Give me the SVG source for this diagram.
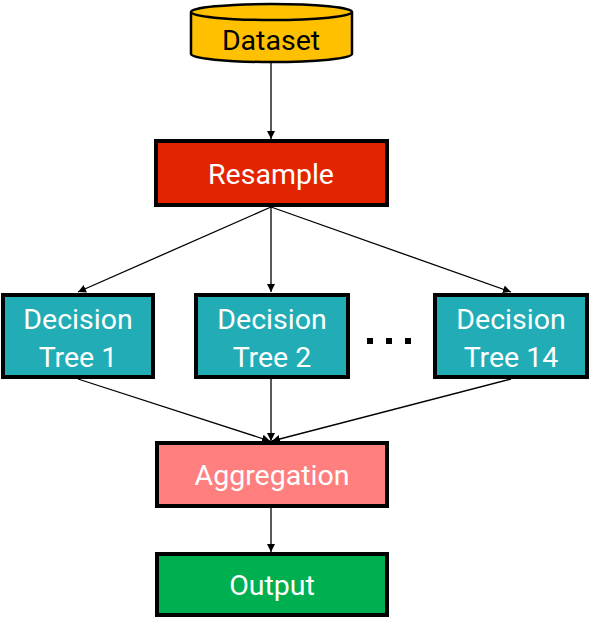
<svg xmlns="http://www.w3.org/2000/svg" width="590" height="618" viewBox="0 0 590 618">
<style>
.box{stroke:#000;stroke-width:4}
.t{font-family:Roboto,"Liberation Sans",sans-serif;font-size:28.5px;text-anchor:middle;fill:#fff}
.tk{fill:#000}
.c{stroke:#000;stroke-width:1.3;fill:none;marker-end:url(#ah)}
.teal{fill:#22ADB6}
</style>
<defs>
<marker id="ah" viewBox="0 0 10 10" refX="10" refY="5" markerWidth="8" markerHeight="8" markerUnits="userSpaceOnUse" orient="auto">
<path d="M0,0 L10,5 L0,10 z" fill="#000"/>
</marker>
</defs>
<g id="connectors">
<line class="c" x1="271" y1="62" x2="271" y2="139"/>
<line class="c" x1="271" y1="207" x2="78" y2="292"/>
<line class="c" x1="271" y1="207" x2="271" y2="292"/>
<line class="c" x1="271" y1="207" x2="511" y2="292"/>
<line class="c" x1="78" y1="379" x2="270" y2="441"/>
<line class="c" x1="271" y1="379" x2="271" y2="441"/>
<line class="c" x1="511" y1="379" x2="272" y2="441"/>
<line class="c" x1="271" y1="508" x2="271" y2="552"/>
</g>
<g id="dataset">
<path d="M191,12 L191,54 A80,8 0 0 0 352,54 L352,12" fill="#FFC000" stroke="#000" stroke-width="2.5"/>
<ellipse cx="271.5" cy="12" rx="80.5" ry="8" fill="#FFC000" stroke="#000" stroke-width="2.5"/>
<text class="t tk" x="271" y="50">Dataset</text>
</g>
<g id="resample">
<rect class="box" x="156" y="141" width="231" height="64" fill="#E32400"/>
<text class="t" x="271" y="184">Resample</text>
</g>
<g id="tree1">
<rect class="box teal" x="3" y="295" width="150" height="82"/>
<text class="t" x="78" y="329">Decision</text>
<text class="t" x="78" y="367">Tree 1</text>
</g>
<g id="tree2">
<rect class="box teal" x="196" y="295" width="152" height="82"/>
<text class="t" x="272" y="329">Decision</text>
<text class="t" x="272" y="367">Tree 2</text>
</g>
<g id="dots">
<rect x="367" y="338" width="6" height="6" fill="#000"/>
<rect x="386" y="338" width="6" height="6" fill="#000"/>
<rect x="405" y="338" width="6" height="6" fill="#000"/>
</g>
<g id="tree14">
<rect class="box teal" x="435" y="295" width="152" height="82"/>
<text class="t" x="511" y="329">Decision</text>
<text class="t" x="511" y="367">Tree 14</text>
</g>
<g id="aggregation">
<rect class="box" x="157" y="443" width="230" height="63" fill="#FF7F7F"/>
<text class="t" x="272" y="485">Aggregation</text>
</g>
<g id="output">
<rect class="box" x="157" y="554" width="230" height="61" fill="#00B050"/>
<text class="t" x="272" y="595">Output</text>
</g>
</svg>
